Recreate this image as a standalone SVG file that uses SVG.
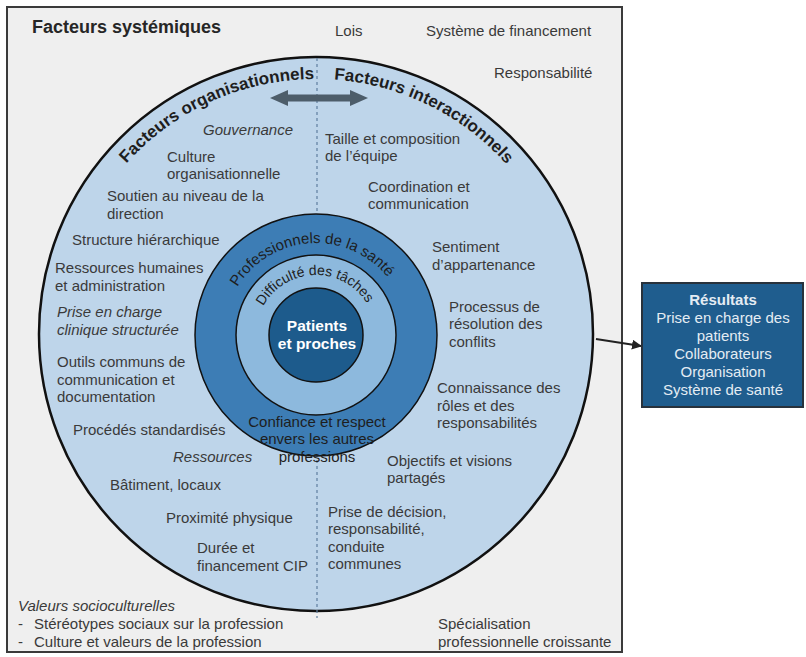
<svg xmlns="http://www.w3.org/2000/svg" width="806" height="657" viewBox="0 0 806 657">
<style>
 text { font-family: "Liberation Sans", Arial, sans-serif; font-size: 15px; fill: #3a3a3a; }
 .it { font-style: italic; }
 .title { font-size: 18px; font-weight: bold; fill: #262626; }
 .arc { font-size: 17px; font-weight: bold; fill: #1e1e1e; }
 .ring { font-size: 15px; fill: #1e1e1e; }
 .ctr { text-anchor: middle; }
 .w { fill: #ffffff; font-weight: bold; font-size: 15.5px; text-anchor: middle; }
 .box { fill: #e4ecf3; font-size: 15px; text-anchor: middle; }
 .circ { stroke: #111; stroke-width: 1.5; }
</style>
<defs>
 <path id="p255" d="M316,589 A255,255 0 1 1 316,79 A255,255 0 1 1 316,589"/>
 <path id="p92" d="M316,427 A92,92 0 1 1 316,243 A92,92 0 1 1 316,427"/>
 <path id="p60" d="M316,395 A60,60 0 1 1 316,275 A60,60 0 1 1 316,395"/>
 <marker id="ah" markerWidth="10" markerHeight="10" refX="9" refY="5" orient="auto" markerUnits="userSpaceOnUse">
  <path d="M0,0 L10,5 L0,10 Z" fill="#222"/>
 </marker>
</defs>

<g id="frame">
 <rect x="7" y="7" width="615" height="645" fill="#efefef" stroke="#3a3a3a" stroke-width="2"/>
</g>

<g id="outer-circle">
 <circle cx="316" cy="334" r="277" fill="#bed5ea" stroke="#111" stroke-width="2.5"/>
</g>

<g id="connectors">
 <line x1="317" y1="58" x2="317" y2="618" stroke="#5f7f9f" stroke-width="1.2" stroke-dasharray="3,3"/>
 <polygon points="270,98 288,90 288,94.5 350,94.5 350,90 368,98 350,106 350,101.5 288,101.5 288,106" fill="#4d5d6a"/>
 <line x1="596" y1="339" x2="641" y2="346" stroke="#222" stroke-width="2" marker-end="url(#ah)"/>
</g>

<g id="ring-professionnels">
 <circle class="circ" cx="316" cy="335" r="121" fill="#3d7db5"/>
</g>
<g id="ring-difficulte">
 <circle class="circ" cx="316" cy="335" r="80" fill="#8db9dd"/>
</g>
<g id="node-patients">
 <circle class="circ" cx="316" cy="335" r="47" fill="#1d5b8c"/>
 <text class="w" x="317" y="331">Patients</text>
 <text class="w" x="317" y="349">et proches</text>
</g>

<g id="ring-labels">
 <text class="ring"><textPath href="#p92" startOffset="282.6" text-anchor="middle">Professionnels de la santé</textPath></text>
 <text class="ring" style="font-size:14px"><textPath href="#p60" startOffset="186.4" text-anchor="middle">Difficulté des tâches</textPath></text>
 <text class="ring ctr" x="317" y="427">Confiance et respect</text>
 <text class="ring ctr" x="317" y="444">envers les autres</text>
 <text class="ring ctr" x="317" y="462">professions</text>
</g>

<g id="title-arcs">
 <text class="arc"><textPath href="#p255" startOffset="798.9" text-anchor="end">Facteurs organisationnels</textPath></text>
 <text class="arc"><textPath href="#p255" startOffset="818.9" text-anchor="start">Facteurs interactionnels</textPath></text>
</g>

<g id="systemiques">
 <text class="title" x="32" y="33">Facteurs systémiques</text>
 <text x="335" y="36">Lois</text>
 <text x="426" y="36">Système de financement</text>
 <text x="494" y="78">Responsabilité</text>
 <text class="it" x="18" y="611">Valeurs socioculturelles</text>
 <text x="18" y="629">-</text>
 <text x="34" y="629">Stéréotypes sociaux sur la profession</text>
 <text x="18" y="647">-</text>
 <text x="34" y="647">Culture et valeurs de la profession</text>
 <text x="438" y="629">Spécialisation</text>
 <text x="438" y="647">professionnelle croissante</text>
</g>

<g id="organisationnels">
 <text class="it" x="203" y="135">Gouvernance</text>
 <text x="167" y="162">Culture</text>
 <text x="167" y="179">organisationnelle</text>
 <text x="107" y="201">Soutien au niveau de la</text>
 <text x="107" y="219">direction</text>
 <text x="72" y="245">Structure hiérarchique</text>
 <text x="55" y="273">Ressources humaines</text>
 <text x="55" y="291">et administration</text>
 <text class="it" x="57" y="317">Prise en charge</text>
 <text class="it" x="57" y="335">clinique structurée</text>
 <text x="57" y="367">Outils communs de</text>
 <text x="57" y="385">communication et</text>
 <text x="57" y="402">documentation</text>
 <text x="73" y="435">Procédés standardisés</text>
 <text class="it" x="173" y="462">Ressources</text>
 <text x="110" y="490">Bâtiment, locaux</text>
 <text x="166" y="523">Proximité physique</text>
 <text x="197" y="553">Durée et</text>
 <text x="197" y="571">financement CIP</text>
</g>

<g id="interactionnels">
 <text x="325" y="144">Taille et composition</text>
 <text x="325" y="161">de l’équipe</text>
 <text x="368" y="192">Coordination et</text>
 <text x="368" y="209">communication</text>
 <text x="432" y="252">Sentiment</text>
 <text x="432" y="270">d’appartenance</text>
 <text x="449" y="312">Processus de</text>
 <text x="449" y="329">résolution des</text>
 <text x="449" y="347">conflits</text>
 <text x="437" y="393">Connaissance des</text>
 <text x="437" y="411">rôles et des</text>
 <text x="437" y="428">responsabilités</text>
 <text x="387" y="466">Objectifs et visions</text>
 <text x="387" y="483">partagés</text>
 <text x="328" y="517">Prise de décision,</text>
 <text x="328" y="534">responsabilité,</text>
 <text x="328" y="552">conduite</text>
 <text x="328" y="569">communes</text>
</g>

<g id="node-resultats">
 <rect x="642" y="283" width="161" height="124" fill="#1f5d8e" stroke="#28323c" stroke-width="2"/>
 <text class="box" x="723" y="305" style="font-weight:bold">Résultats</text>
 <text class="box" x="723" y="323">Prise en charge des</text>
 <text class="box" x="723" y="341">patients</text>
 <text class="box" x="723" y="359">Collaborateurs</text>
 <text class="box" x="723" y="377">Organisation</text>
 <text class="box" x="723" y="395">Système de santé</text>
</g>
</svg>
